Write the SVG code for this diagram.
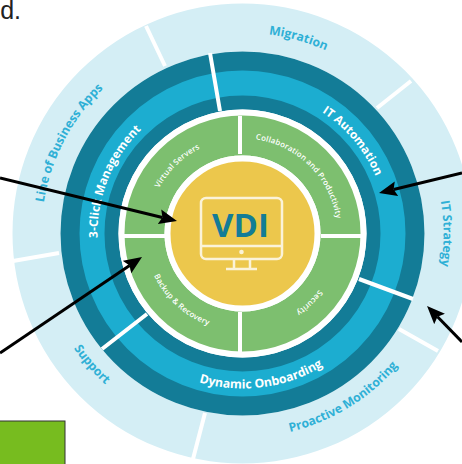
<svg xmlns="http://www.w3.org/2000/svg" width="462" height="464" viewBox="0 0 462 464">
<style>
text{font-family:"Open Sans","Noto Sans","Liberation Sans",sans-serif;font-weight:700;text-anchor:middle}
.o{font-size:12.2px;fill:#2fb0d6}
.m{font-size:11.8px;fill:#fff}
.i{font-size:7.8px;fill:#fff;font-weight:600;letter-spacing:.2px}
.sep{stroke:#fff;fill:none}
.ring{fill:none}
.mon{stroke:#fbf3d9;stroke-width:2.5;fill:none}
.arrow{stroke:#000;stroke-width:3;fill:none;marker-end:url(#ah)}
</style>
<defs>
<marker id="ah" markerUnits="userSpaceOnUse" markerWidth="19" markerHeight="16" refX="3" refY="8" orient="auto"><path d="M0 0.5L18 8L0 15.5L3 8Z" fill="#000"/></marker>
<path id="oc" d="M41.5 233.5A201 201 0 0 1 443.5 233.5"/>
<path id="oa" d="M38.5 233.5A204 204 0 0 0 446.5 233.5"/>
<path id="mc" d="M97.5 233.5A145 145 0 0 1 387.5 233.5"/>
<path id="ma" d="M87.5 233.5A155 155 0 0 0 397.5 233.5"/>
<path id="ic" d="M147.5 233.5A95 95 0 0 1 337.5 233.5"/>
<path id="ia" d="M144.5 233.5A98 98 0 0 0 340.5 233.5"/>
</defs>
<g id="rings">
<circle cx="242.5" cy="233.5" r="206" class="ring" stroke="#d4eef5" stroke-width="48"/>
<circle cx="242.5" cy="233.5" r="153" class="ring" stroke="#137c97" stroke-width="58"/>
<circle cx="242.5" cy="233.5" r="150.5" class="ring" stroke="#1cadd0" stroke-width="25"/>
<circle cx="242.5" cy="233.5" r="121" class="ring" stroke="#fff" stroke-width="6"/>
</g>
<g id="inner-ring">
<circle cx="242.5" cy="233.5" r="98" class="ring" stroke="#7dbf6f" stroke-width="40"/>
</g>
<g id="separators">
<path class="sep" stroke-width="4" d="M146 26L165 66M411 81L377 108M438 351L399 329M193 459L205 413M13 261L59 253"/>
<path class="sep" stroke-width="4" d="M210 53L220 111M359 279L413 299M102 349L147 314"/>
<path class="sep" stroke-width="4" d="M240 116V154M321 236H361M124 236H165M240 312V352"/>
</g>
<g id="labels">
<g id="migration"><text class="o" transform="rotate(16 242.5 233.5)"><textPath href="#oc" startOffset="50%">Migration</textPath></text></g>
<g id="it-strategy"><text class="o" transform="rotate(90 242.5 233.5)"><textPath href="#oc" startOffset="50%">IT Strategy</textPath></text></g>
<g id="lob"><text class="o" transform="rotate(-62.5 242.5 233.5)"><textPath href="#oc" startOffset="50%">Line of Business Apps</textPath></text></g>
<g id="proactive"><text class="o" transform="rotate(-31.5 242.5 233.5)"><textPath href="#oa" startOffset="50%">Proactive Monitoring</textPath></text></g>
<g id="support"><text class="o" transform="rotate(49 242.5 233.5)"><textPath href="#oa" startOffset="50%">Support</textPath></text></g>
<g id="click"><text class="m" transform="rotate(-68 242.5 233.5)"><textPath href="#mc" startOffset="50%">3-Click Management</textPath></text></g>
<g id="automation"><text class="m" transform="rotate(50 242.5 233.5)"><textPath href="#mc" startOffset="50%">IT Automation</textPath></text></g>
<g id="onboarding"><text class="m" style="font-size:12.2px" transform="rotate(-7.5 242.5 233.5)"><textPath href="#ma" startOffset="50%">Dynamic Onboarding</textPath></text></g>
<g id="virtual"><text class="i" transform="rotate(-44 242.5 233.5)"><textPath href="#ic" startOffset="50%">Virtual Servers</textPath></text></g>
<g id="collab"><text class="i" transform="rotate(44.5 242.5 233.5)"><textPath href="#ic" startOffset="50%">Collaboration and Productivity</textPath></text></g>
<g id="backup"><text class="i" transform="rotate(42.5 242.5 233.5)"><textPath href="#ia" startOffset="50%">Backup &amp; Recovery</textPath></text></g>
<g id="security"><text class="i" transform="rotate(136 242.5 233.5)"><textPath href="#ic" startOffset="50%">Security</textPath></text></g>
</g>
<g id="vdi">
<circle cx="242.5" cy="233.5" r="75" fill="#ecc74c" stroke="#fff" stroke-width="6"/>
<rect class="mon" x="201" y="198" width="81" height="61" rx="5"/>
<path class="mon" d="M201 246H282M234 259V268M250 259V268M226 269H257"/>
<circle cx="241.5" cy="252" r="2.3" fill="#fbf3d9"/>
<text x="240.5" y="237" font-size="33" fill="#137c97">VDI</text>
</g>
<g id="connectors">
<path class="arrow" d="M0 178L162.4 217.5"/>
<path class="arrow" d="M462 173L393.6 189.5"/>
<path class="arrow" d="M0 353L129.6 265.4"/>
<path class="arrow" d="M462 342L437.5 316.8"/>
</g>
<rect id="green-box" x="-1" y="421" width="66" height="50" fill="#77bc1f" stroke="#333" stroke-width="1"/>
<text x="0.2" y="19" font-size="25" fill="#222" style="font-family:'Liberation Sans',sans-serif;font-weight:400;text-anchor:start">d.</text>
</svg>
